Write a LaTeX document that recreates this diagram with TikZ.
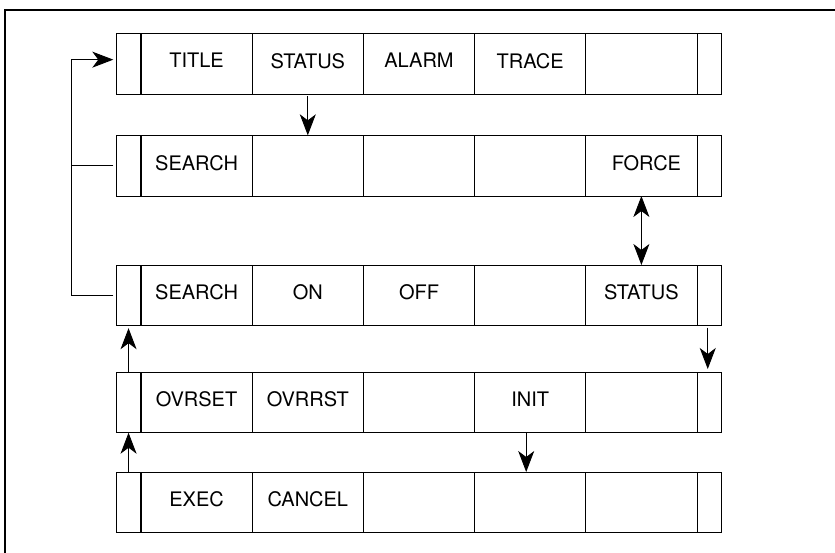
\documentclass[tikz,border=0pt]{standalone}
\usepackage{fontspec}
\setmainfont{TeX Gyre Heros}
\usetikzlibrary{arrows.meta}
\newcommand\keyrow[7]{%
  \node[narrow] (#1c0) at (116.3,#2) {};
  \node[wide] (#1c1) at (141,#2) {#3};
  \node[wide] (#1c2) at (252.2,#2) {#4};
  \node[wide] (#1c3) at (363.4,#2) {#5};
  \node[wide] (#1c4) at (474.6,#2) {#6};
  \node[wide] (#1c5) at (585.8,#2) {#7};
  \node[narrow] (#1c6) at (697,#2) {};
}
\tikzset{mytip/.tip={Stealth[length=21pt,width=16pt,inset=6pt]}}
\begin{document}
\begin{tikzpicture}[x=1pt,y=-1pt,
  cell/.style={draw, line width=0.9pt, minimum height=60.7pt, inner sep=0pt, outer sep=0pt,
    anchor=north west, font=\fontsize{20}{24}\selectfont, text depth=6pt},
  narrow/.style={cell, minimum width=24.5pt},
  wide/.style={cell, minimum width=111.2pt},
  link/.style={line width=0.9pt},
  flow/.style={link, -{mytip}},
  both/.style={link, {mytip}-{mytip}},
  frame/.style={line width=1.8pt}]
\useasboundingbox (0,0) rectangle (835,552);
\draw[frame] (5,560) -- (5,10) -- (840,10);
\keyrow{r1}{33.3}{TITLE}{STATUS}{ALARM}{TRACE}{}
\keyrow{r2}{135.3}{SEARCH}{}{}{}{\hspace*{10pt}FORCE}
\keyrow{r3}{265}{SEARCH}{ON}{OFF}{}{STATUS}
\keyrow{r4}{372}{OVRSET}{OVRRST}{}{INIT}{}
\keyrow{r5}{472}{EXEC}{CANCEL}{}{}{}
% feedback loop
\draw[flow] ([xshift=-3pt]r3c0.west) -- ++(-41.5,0) |- ([xshift=-3pt,yshift=4pt]r1c0.west);
\draw[link] ([xshift=-3pt]r2c0.west) -- ++(-41.5,0);
% vertical transitions
\draw[flow, shorten <=2pt] (r1c2.south) -- (r2c2.north);
\draw[both] (r2c5.south) -- (r3c5.north);
\draw[flow, shorten <=2pt, shorten >=3pt] ([xshift=-1.5pt]r3c6.south) -- ([xshift=-1.5pt]r4c6.north);
\draw[flow, shorten >=2.5pt] (r4c0.north) -- (r3c0.south);
\draw[flow] (r5c0.north) -- (r4c0.south);
\draw[flow] ([xshift=-4pt]r4c4.south) -- ([xshift=-4pt]r5c4.north);
\end{tikzpicture}
\end{document}
